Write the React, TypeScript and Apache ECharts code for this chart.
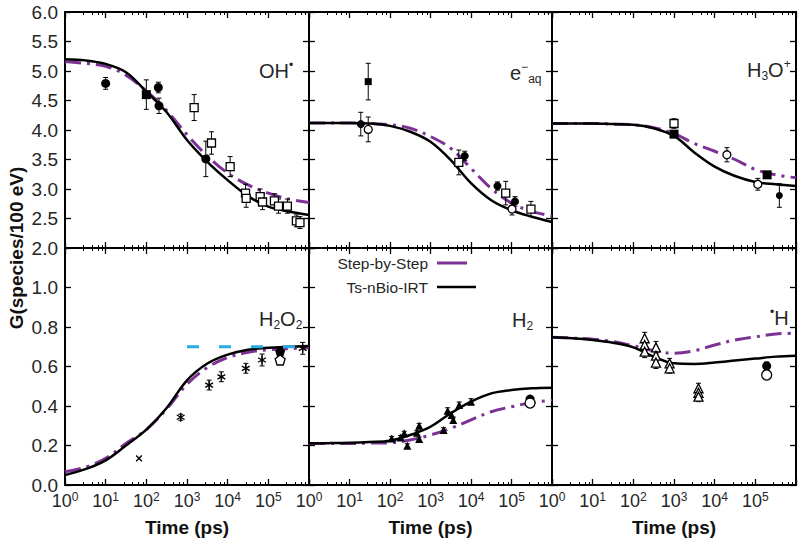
import React, { useEffect, useRef } from 'react';
import * as echarts from 'echarts';

type Pt = [number, number, number];

// time grid (ps) for the model curves
const T = [1, 3.16, 10, 31.6, 100, 316, 1000, 3162, 10000, 31623, 100000, 316228, 1000000];

// OH•
const ohIRT = [5.20, 5.18, 5.12, 4.98, 4.65, 4.30, 3.83, 3.46, 3.15, 2.88, 2.70, 2.62, 2.56];
const ohSbS = [5.16, 5.13, 5.08, 4.93, 4.66, 4.33, 3.92, 3.56, 3.27, 3.07, 2.93, 2.83, 2.77];
const ohFilledCircle: Pt[] = [[10, 4.79, 0.10], [197, 4.72, 0.09], [205, 4.41, 0.13], [2900, 3.51, 0.30]];
const ohFilledSquare: Pt[] = [[100, 4.60, 0.25]];
const ohOpenSquare: Pt[] = [[1500, 4.38, 0.22], [4000, 3.78, 0.19], [11500, 3.38, 0.17], [27500, 2.93, 0.15], [28500, 2.84, 0.15], [63000, 2.87, 0.13], [72000, 2.78, 0.13], [141000, 2.80, 0.12], [178000, 2.71, 0.12], [294000, 2.71, 0.12], [490000, 2.46, 0.10], [600000, 2.43, 0.10]];

// e-aq
const eIRT = [4.12, 4.12, 4.12, 4.11, 4.07, 3.97, 3.80, 3.49, 3.10, 2.81, 2.64, 2.53, 2.44];
const eSbS = [4.12, 4.12, 4.12, 4.11, 4.09, 4.03, 3.89, 3.69, 3.35, 3.01, 2.76, 2.62, 2.54];
const eFilledCircle: Pt[] = [[19, 4.10, 0.20], [7000, 3.56, 0.08], [45000, 3.05, 0.07], [122000, 2.79, 0.08]];
const eOpenCircle: Pt[] = [[29, 4.01, 0.21], [103000, 2.66, 0.10]];
const eFilledSquare: Pt[] = [[29, 4.82, 0.31]];
const eOpenSquare: Pt[] = [[5000, 3.45, 0.21], [72000, 2.93, 0.20], [302000, 2.66, 0.13]];

// H3O+
const h3oIRT = [4.11, 4.11, 4.11, 4.10, 4.09, 4.03, 3.90, 3.62, 3.38, 3.22, 3.12, 3.08, 3.05];
const h3oSbS = [4.11, 4.11, 4.11, 4.10, 4.09, 4.04, 3.94, 3.77, 3.64, 3.50, 3.33, 3.24, 3.19];
const h3oOpenSquare: Pt[] = [[1000, 4.11, 0.08]];
const h3oFilledSquare: Pt[] = [[1000, 3.93, 0], [195000, 3.24, 0]];
const h3oOpenCircle: Pt[] = [[20000, 3.58, 0.12], [115000, 3.08, 0.10]];
const h3oFilledCircle: Pt[] = [[390000, 2.89, 0.20]];

// H2O2
const h2o2IRT = [0.05, 0.08, 0.125, 0.20, 0.28, 0.39, 0.53, 0.615, 0.66, 0.685, 0.695, 0.70, 0.704];
const h2o2SbS = [0.067, 0.09, 0.135, 0.21, 0.28, 0.385, 0.51, 0.595, 0.645, 0.672, 0.685, 0.69, 0.695];
const h2o2RefT = [1000, 1000000];
const h2o2RefV = [0.70, 0.70];
const h2o2Cross: Pt[] = [[66, 0.135, 0]];
const h2o2Star: Pt[] = [[700, 0.343, 0.015], [3500, 0.506, 0.025], [7000, 0.548, 0.025], [28000, 0.591, 0.025], [70000, 0.633, 0.03], [700000, 0.692, 0.03]];
const h2o2FilledPent: Pt[] = [[195000, 0.675, 0.015]];
const h2o2OpenPent: Pt[] = [[195000, 0.633, 0]];

// H2
const h2IRT = [0.211, 0.212, 0.214, 0.218, 0.224, 0.253, 0.295, 0.363, 0.422, 0.464, 0.481, 0.49, 0.493];
const h2SbS = [0.21, 0.21, 0.21, 0.212, 0.214, 0.228, 0.253, 0.287, 0.33, 0.371, 0.396, 0.417, 0.43];
const h2Tri: Pt[] = [[110, 0.236, 0.01], [183, 0.241, 0.01], [225, 0.262, 0.01], [268, 0.199, 0.01], [460, 0.265, 0.01], [525, 0.30, 0.012], [525, 0.233, 0.01], [2100, 0.278, 0.012], [2650, 0.376, 0.015], [3300, 0.354, 0.015], [3650, 0.329, 0.015], [5100, 0.405, 0.015], [10000, 0.422, 0.015]];
const h2FilledCircle: Pt[] = [[287000, 0.435, 0]];
const h2OpenCircle: Pt[] = [[287000, 0.415, 0]];

// •H
const hIRT = [0.748, 0.743, 0.734, 0.72, 0.697, 0.65, 0.616, 0.613, 0.62, 0.63, 0.64, 0.65, 0.655];
const hSbS = [0.748, 0.744, 0.738, 0.726, 0.705, 0.68, 0.667, 0.68, 0.709, 0.734, 0.75, 0.765, 0.768];
const hTri: Pt[] = [[190, 0.743, 0.03], [190, 0.709, 0.03], [190, 0.675, 0.03], [360, 0.697, 0.03], [360, 0.655, 0.03], [360, 0.62, 0.03], [780, 0.616, 0.025], [780, 0.591, 0.025], [4000, 0.49, 0.025], [4000, 0.467, 0.025], [4000, 0.447, 0.025]];
const hFilledCircle: Pt[] = [[190000, 0.603, 0.02]];
const hOpenCircle: Pt[] = [[190000, 0.557, 0]];

const yTicksTop = { min: 2, max: 6, interval: 0.5 };
const yTicksBottom = { min: 0, max: 1.2, interval: 0.2 };

const FONT = '"Liberation Sans", Arial, Helvetica, sans-serif';
const PURPLE = '#7B3294';
const CYAN = '#29ABE2';
const TXT = '#262626';

const PENT = 'path://M0,-1L0.951,-0.309L0.588,0.809L-0.588,0.809L-0.951,-0.309Z';

type Mark = { kind: 'circle' | 'rect' | 'triangle' | 'pent' | 'star' | 'cross'; fill: boolean; size: number; data: Pt[] };
type Panel = { irt: number[]; sbs: number[]; marks: Mark[]; ref?: boolean };

const panels: Panel[] = [
  { irt: ohIRT, sbs: ohSbS, marks: [
    { kind: 'circle', fill: true, size: 9, data: ohFilledCircle },
    { kind: 'rect', fill: true, size: 9, data: ohFilledSquare },
    { kind: 'rect', fill: false, size: 8, data: ohOpenSquare },
  ] },
  { irt: eIRT, sbs: eSbS, marks: [
    { kind: 'circle', fill: true, size: 8, data: eFilledCircle },
    { kind: 'circle', fill: false, size: 8, data: eOpenCircle },
    { kind: 'rect', fill: true, size: 7, data: eFilledSquare },
    { kind: 'rect', fill: false, size: 8, data: eOpenSquare },
  ] },
  { irt: h3oIRT, sbs: h3oSbS, marks: [
    { kind: 'rect', fill: false, size: 8, data: h3oOpenSquare },
    { kind: 'rect', fill: true, size: 9, data: h3oFilledSquare },
    { kind: 'circle', fill: false, size: 8, data: h3oOpenCircle },
    { kind: 'circle', fill: true, size: 7, data: h3oFilledCircle },
  ] },
  { irt: h2o2IRT, sbs: h2o2SbS, ref: true, marks: [
    { kind: 'cross', fill: false, size: 4, data: h2o2Cross },
    { kind: 'star', fill: false, size: 4.5, data: h2o2Star },
    { kind: 'pent', fill: true, size: 10, data: h2o2FilledPent },
    { kind: 'pent', fill: false, size: 10, data: h2o2OpenPent },
  ] },
  { irt: h2IRT, sbs: h2SbS, marks: [
    { kind: 'triangle', fill: true, size: 8, data: h2Tri },
    { kind: 'circle', fill: true, size: 9, data: h2FilledCircle },
    { kind: 'circle', fill: false, size: 10, data: h2OpenCircle },
  ] },
  { irt: hIRT, sbs: hSbS, marks: [
    { kind: 'triangle', fill: false, size: 9, data: hTri },
    { kind: 'circle', fill: true, size: 9, data: hFilledCircle },
    { kind: 'circle', fill: false, size: 10, data: hOpenCircle },
  ] },
];

const cols = [[65, 244], [309, 243], [552, 244]];
const rows = [[12, 236], [248, 237]];

function errItem(params: any, api: any) {
  const x = api.value(0), y = api.value(1), e = api.value(2);
  if (!e) return { type: 'group', children: [] };
  const a = api.coord([x, y + e]);
  const b = api.coord([x, y - e]);
  const w = 2.5;
  const st = { stroke: '#000', lineWidth: 1 };
  return {
    type: 'group',
    children: [
      { type: 'line', shape: { x1: a[0], y1: a[1], x2: b[0], y2: b[1] }, style: st },
      { type: 'line', shape: { x1: a[0] - w, y1: a[1], x2: a[0] + w, y2: a[1] }, style: st },
      { type: 'line', shape: { x1: b[0] - w, y1: b[1], x2: b[0] + w, y2: b[1] }, style: st },
    ],
  };
}

function asteriskItem(angles: number[], r: number) {
  return (params: any, api: any) => {
    const c = api.coord([api.value(0), api.value(1)]);
    const children: any[] = angles.map((deg) => {
      const rad = (deg * Math.PI) / 180;
      return {
        type: 'line',
        shape: { x1: c[0] - r * Math.cos(rad), y1: c[1] - r * Math.sin(rad), x2: c[0] + r * Math.cos(rad), y2: c[1] + r * Math.sin(rad) },
        style: { stroke: '#000', lineWidth: 1.4 },
      };
    });
    return { type: 'group', children };
  };
}

function buildOption() {
  const grid: any[] = [];
  const xAxis: any[] = [];
  const yAxis: any[] = [];
  const series: any[] = [];

  panels.forEach((p, i) => {
    const c = i % 3;
    const r = Math.floor(i / 3);
    grid.push({ left: cols[c][0], top: rows[r][0], width: cols[c][1], height: rows[r][1], containLabel: false });
    const common = {
      type: 'log', logBase: 10, gridIndex: i, min: 1, max: 1000000,
      axisLine: { show: true, onZero: false, lineStyle: { color: '#000', width: 2 } },
      axisTick: { show: true, inside: true, length: 6, lineStyle: { color: '#000', width: 1.3 } },
      minorTick: { show: true, splitNumber: 5, length: 3, lineStyle: { color: '#000', width: 1 } },
      splitLine: { show: false }, minorSplitLine: { show: false },
    };
    xAxis.push({
      ...common, position: 'bottom',
      axisLabel: {
        show: r === 1, showMaxLabel: false, margin: 6,
        formatter: (v: number) => `{b|10}{s|${Math.round(Math.log10(v))}}`,
        rich: {
          b: { fontSize: 18, fontFamily: FONT, color: TXT, lineHeight: 20 },
          s: { fontSize: 12, fontFamily: FONT, color: TXT, lineHeight: 12, verticalAlign: 'top' },
        },
      },
      name: r === 1 ? 'Time (ps)' : '',
      nameLocation: 'middle', nameGap: 33,
      nameTextStyle: { fontSize: 19, fontWeight: 'bold', fontFamily: FONT, color: '#111' },
    });
    xAxis.push({ ...common, position: 'top', axisLabel: { show: false } });
    const yr = r === 0 ? yTicksTop : yTicksBottom;
    const ycommon = {
      type: 'value', gridIndex: i, min: yr.min, max: yr.max, interval: yr.interval,
      axisLine: { show: true, onZero: false, lineStyle: { color: '#000', width: 2 } },
      axisTick: { show: true, inside: true, length: 6, lineStyle: { color: '#000', width: 1.3 } },
      splitLine: { show: false },
    };
    yAxis.push({
      ...ycommon, position: 'left',
      axisLabel: {
        show: c === 0, showMaxLabel: r === 0, margin: 7,
        formatter: (v: number) => v.toFixed(1),
        fontSize: 19, fontFamily: FONT, color: TXT,
      },
    });
    yAxis.push({ ...ycommon, position: 'right', axisLabel: { show: false } });

    const xi = 2 * i, yi = 2 * i;
    series.push({
      type: 'line', xAxisIndex: xi, yAxisIndex: yi, data: T.map((t, k) => [t, p.sbs[k]]),
      showSymbol: false, smooth: 0.35, z: 2,
      lineStyle: { color: PURPLE, width: 3, type: [16, 6, 3, 6] },
    });
    series.push({
      type: 'line', xAxisIndex: xi, yAxisIndex: yi, data: T.map((t, k) => [t, p.irt[k]]),
      showSymbol: false, smooth: 0.35, z: 3,
      lineStyle: { color: '#000', width: 2.5 },
    });
    if (p.ref) {
      series.push({
        type: 'line', xAxisIndex: xi, yAxisIndex: yi, data: h2o2RefT.map((t, k) => [t, h2o2RefV[k]]),
        showSymbol: false, z: 4,
        lineStyle: { color: CYAN, width: 3, type: [12, 20] },
      });
    }
    const allPts: Pt[] = [];
    p.marks.forEach((m) => allPts.push(...m.data));
    series.push({
      type: 'custom', xAxisIndex: xi, yAxisIndex: yi, data: allPts, renderItem: errItem,
      encode: { x: 0, y: 1 }, z: 5,
    });
    p.marks.forEach((m) => {
      if (m.kind === 'star' || m.kind === 'cross') {
        series.push({
          type: 'custom', xAxisIndex: xi, yAxisIndex: yi, data: m.data,
          renderItem: asteriskItem(m.kind === 'star' ? [90, 30, 150] : [45, 135], m.size),
          encode: { x: 0, y: 1 }, z: 6,
        });
      } else {
        series.push({
          type: 'scatter', xAxisIndex: xi, yAxisIndex: yi, data: m.data.map((d) => [d[0], d[1]]),
          symbol: m.kind === 'pent' ? PENT : m.kind, symbolSize: m.size, z: 6,
          itemStyle: { color: m.fill ? '#000' : '#fff', borderColor: '#000', borderWidth: m.fill ? 0 : 1.3, opacity: 1 },
        });
      }
    });
  });

  const labRich = {
    n: { fontSize: 20, fontFamily: FONT, fill: TXT, lineHeight: 24 },
    sp: { fontSize: 12, fontFamily: FONT, fill: TXT, lineHeight: 12, verticalAlign: 'top' },
    sb: { fontSize: 12, fontFamily: FONT, fill: TXT, lineHeight: 12, verticalAlign: 'bottom' },
  };
  const lab = (x: number, y: number, text: string) => ({
    type: 'text', x, y, z: 10,
    style: { text, rich: labRich, fill: TXT, fontSize: 20, fontFamily: FONT, verticalAlign: 'middle', align: 'left' },
  });

  const graphic: any[] = [
    {
      type: 'text', x: 16, y: 248, rotation: Math.PI / 2, z: 10,
      style: { text: 'G(species/100 eV)', fontSize: 19, fontWeight: 'bold', fontFamily: FONT, fill: '#111', align: 'center', verticalAlign: 'middle' },
    },
    lab(259, 71, '{n|OH}{sp|•}'),
    lab(510, 73, '{n|e}{sp|−}{sb|aq}'),
    lab(747, 70, '{n|H}{sb|3}{n|O}{sp|+}'),
    lab(259, 319, '{n|H}{sb|2}{n|O}{sb|2}'),
    lab(512, 320, '{n|H}{sb|2}'),
    lab(770, 318, '{sp|•}{n|H}'),
    {
      type: 'text', x: 428, y: 263, z: 10,
      style: { text: 'Step-by-Step', fontSize: 15.5, fontFamily: FONT, fill: TXT, align: 'right', verticalAlign: 'middle' },
    },
    { type: 'line', z: 10, shape: { x1: 437, y1: 263, x2: 467, y2: 263 }, style: { stroke: PURPLE, lineWidth: 3 } },
    {
      type: 'text', x: 428, y: 287, z: 10,
      style: { text: 'Ts-nBio-IRT', fontSize: 15.5, fontFamily: FONT, fill: TXT, align: 'right', verticalAlign: 'middle' },
    },
    { type: 'line', z: 10, shape: { x1: 437, y1: 287, x2: 476, y2: 287 }, style: { stroke: '#000', lineWidth: 2.5 } },
  ];

  return { animation: false, backgroundColor: '#fff', grid, xAxis, yAxis, series, graphic };
}

export default function App() {
  const ref = useRef<HTMLDivElement>(null);
  useEffect(() => {
    const chart = echarts.init(ref.current!, null, { renderer: 'svg' });
    chart.setOption(buildOption() as any);
    return () => chart.dispose();
  }, []);
  return <div ref={ref} style={{ position: 'absolute', left: 0, top: 0, width: 800, height: 542 }} />;
}
